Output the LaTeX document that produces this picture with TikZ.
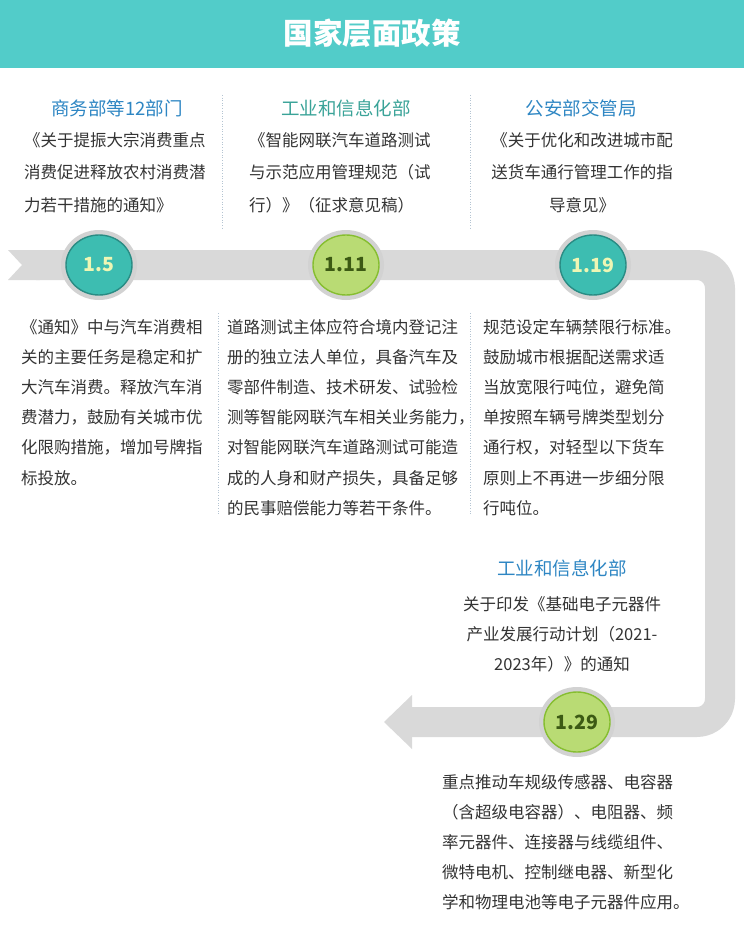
\documentclass[tikz,border=0pt]{standalone}
\usepackage{fontspec}
\setmainfont{Noto Sans CJK SC}
\usetikzlibrary{positioning}

\definecolor{hdrteal}{HTML}{52CCC9}
\definecolor{bandgray}{HTML}{D9D9D9}
\definecolor{halogray}{HTML}{D2D2D2}
\definecolor{deptblue}{HTML}{2E86C3}
\definecolor{deptteal}{HTML}{3AA398}
\definecolor{bodygray}{HTML}{333333}
\definecolor{sepblue}{HTML}{B4C4D2}
\definecolor{discteal}{HTML}{3DBDB1}
\definecolor{discrimteal}{HTML}{2A8C84}
\definecolor{discgreen}{HTML}{B9DB74}
\definecolor{discrimgreen}{HTML}{86BE30}
\definecolor{datelight}{HTML}{EEF6B4}
\definecolor{datedark}{HTML}{3C5A14}

\begin{document}
\begin{tikzpicture}[x=1pt, y=-1pt, line cap=round, line join=round,
  dept/.style={font=\fontsize{18.5}{22}\selectfont, inner sep=0pt},
  doc/.style={font=\fontsize{16.5}{32.5}\selectfont, text=bodygray, inner sep=0pt, align=left, anchor=north west},
  note/.style={font=\fontsize{16.5}{30.2}\selectfont, text=bodygray, inner sep=0pt, align=left, anchor=north west},
  sepline/.style={sepblue, line width=0.7pt, line cap=butt, dash pattern=on 1pt off 1.6pt},
  tealdate/.style={fill=discteal, draw=discrimteal, line width=1.4pt},
  greendate/.style={fill=discgreen, draw=discrimgreen, line width=1.4pt},
  datetext/.style={font=\fontsize{19.5}{21}\selectfont\bfseries, inner sep=0pt}]

\useasboundingbox (0,0) rectangle (744,939);

% ----------------------------
% PARAMETERS
% ----------------------------
\def\bandw{30}     % band thickness
\def\Ty{265}       % top band centre line
\def\By{722}       % bottom band centre line
\def\Rx{720}       % right band centre line
\def\rx{33}        % date disc x radius
\def\ry{30}        % date disc y radius

\coordinate (c15)  at (99,\Ty);
\coordinate (c111) at (346,\Ty);
\coordinate (c119) at (593,\Ty);
\coordinate (c129) at (577,\By);

% ----------------------------
% HEADER
% ----------------------------
\fill[hdrteal] (0,0) rectangle (744,68);
\node[font=\fontsize{29.5}{32}\selectfont\bfseries, text=white] (title) at (372,33) {国家层面政策};

% ----------------------------
% TIMELINE BAND (tail, bend, arrow head)
% ----------------------------
\fill[bandgray] (8,250) -- (40,250) -- (40,280) -- (8,280) -- (22,\Ty) -- cycle;
\draw[bandgray, line width=\bandw pt, line cap=butt, rounded corners=23pt]
  (36,\Ty) -- (\Rx,\Ty) -- (\Rx,\By) -- (410,\By);
\fill[bandgray] (412,695) -- (412,749) -- (384,\By) -- cycle;

% ----------------------------
% DATE DISCS
% ----------------------------
\foreach \c in {c15,c111,c119,c129}
  \fill[halogray] (\c) ellipse [x radius=\rx+5, y radius=\ry+5];

\draw[tealdate]  (c15)  ellipse [x radius=\rx, y radius=\ry];
\draw[greendate] (c111) ellipse [x radius=\rx, y radius=\ry];
\draw[tealdate]  (c119) ellipse [x radius=\rx, y radius=\ry];
\draw[greendate] (c129) ellipse [x radius=\rx, y radius=\ry];

\node[datetext, text=datelight] (d15)  at (c15)  {1.5};
\node[datetext, text=datedark]  (d111) at (c111) {1.11};
\node[datetext, text=datelight] (d119) at (c119) {1.19};
\node[datetext, text=datedark]  (d129) at (c129) {1.29};

% ----------------------------
% SEPARATORS
% ----------------------------
\draw[sepline] (222,95) -- (222,228);
\draw[sepline] (470,95) -- (470,228);
\draw[sepline] (218,313) -- (218,515);
\draw[sepline] (470,313) -- (470,515);

% ----------------------------
% ISSUERS AND DOCUMENTS (above the band)
% ----------------------------
\node[dept, text=deptblue] (dep15)  at (117,108) {商务部等12部门};
\node[dept, text=deptteal] (dep111) at (346,108) {工业和信息化部};
\node[dept, text=deptblue] (dep119) at (581,108) {公安部交管局};

\node[doc] (doc15) at (24,132)
  {《关于提振大宗消费重点\\消费促进释放农村消费潜\\力若干措施的通知》};
\node[doc] (doc111) at (249,132)
  {《智能网联汽车道路测试\\与示范应用管理规范（试\\行）》（征求意见稿）};
\node[doc, align=center, anchor=north] (doc119) at (582,132)
  {《关于优化和改进城市配\\送货车通行管理工作的指\\导意见》};

% ----------------------------
% CONTENTS (below the band)
% ----------------------------
\node[note] (note15) at (21,319)
  {《通知》中与汽车消费相\\关的主要任务是稳定和扩\\大汽车消费。释放汽车消\\费潜力，鼓励有关城市优\\化限购措施，增加号牌指\\标投放。};
\node[note] (note111) at (227,319)
  {道路测试主体应符合境内登记注\\册的独立法人单位，具备汽车及\\零部件制造、技术研发、试验检\\测等智能网联汽车相关业务能力，\\对智能网联汽车道路测试可能造\\成的人身和财产损失，具备足够\\的民事赔偿能力等若干条件。};
\node[note] (note119) at (483,319)
  {规范设定车辆禁限行标准。\\鼓励城市根据配送需求适\\当放宽限行吨位，避免简\\单按照车辆号牌类型划分\\通行权，对轻型以下货车\\原则上不再进一步细分限\\行吨位。};

% ----------------------------
% LAST ITEM (after the bend)
% ----------------------------
\node[dept, text=deptblue] (dep129) at (562,568) {工业和信息化部};
\node[note, align=center, anchor=north] (doc129) at (562,596)
  {关于印发《基础电子元器件\\产业发展行动计划（2021-\\2023年）》的通知};
\node[note] (note129) at (442,774)
  {重点推动车规级传感器、电容器\\（含超级电容器）、电阻器、频\\率元器件、连接器与线缆组件、\\微特电机、控制继电器、新型化\\学和物理电池等电子元器件应用。};

\end{tikzpicture}
\end{document}
